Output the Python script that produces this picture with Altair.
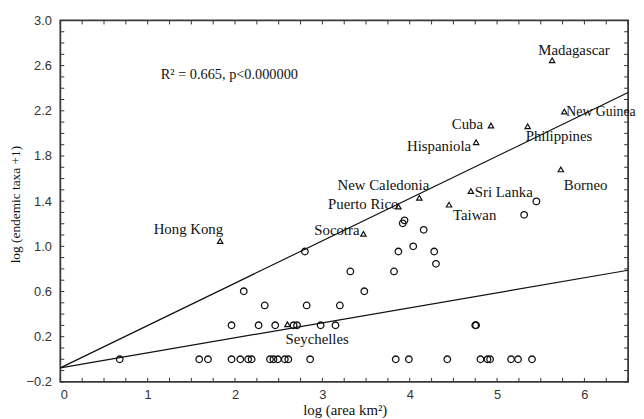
import altair as alt
import numpy as np
import pandas as pd

# ---------------- data ----------------
# unlabelled islands (circles)
circle_x = [0.68, 1.59, 1.69, 1.96, 2.06, 2.15, 2.19, 2.40, 2.44, 2.49, 2.57, 2.61, 2.86,
            3.84, 3.99, 4.43, 4.81, 4.89, 4.92, 5.16, 5.24, 5.40,
            1.96, 2.27, 2.46, 2.67, 2.71, 2.98, 3.15, 4.75, 4.76,
            2.34, 2.82, 3.20,
            2.10, 3.48,
            3.32, 3.82,
            4.30,
            2.80, 3.87, 4.28,
            4.04,
            4.16,
            3.92, 3.94,
            5.31,
            5.45]
circle_y = [0.0] * 22 + \
           [0.301] * 9 + \
           [0.477] * 3 + \
           [0.602] * 2 + \
           [0.778] * 2 + \
           [0.845] + \
           [0.954] * 3 + \
           [1.0] + \
           [1.146] + \
           [1.204, 1.230] + \
           [1.279] + \
           [1.398]

# labelled islands (triangles)
tri_names = ["Madagascar", "New Guinea", "Cuba", "Philippines", "Hispaniola", "Borneo",
             "Sri Lanka", "Taiwan", "New Caledonia", "Puerto Rico", "Socotra",
             "Hong Kong", "Seychelles"]
tri_x = [5.63, 5.77, 4.93, 5.35, 4.76, 5.73, 4.70, 4.45, 4.11, 3.87, 3.47, 1.83, 2.60]
tri_y = [2.647, 2.193, 2.070, 2.063, 1.922, 1.681, 1.489, 1.369, 1.430, 1.353, 1.111, 1.047, 0.310]

# regression lines
fit_names = ["upper", "lower"]
fit_intercept = [-0.076, -0.076]
fit_slope = [0.375, 0.133]

x_tick_labels = [0, 1, 2, 3, 4, 5, 6]
y_tick_labels = [-0.2, 0.2, 0.6, 1.0, 1.4, 1.8, 2.2, 2.6, 3.0]
x_minor_step = 0.25
y_minor_step = 0.1

stat_text = "R\u00b2 = 0.665, p<0.000000"
stat_x = [1.15]
stat_y = [2.48]

x_title = "log (area km\u00b2)"
y_title = "log (endemic taxa +1)"

# ---------------- layout / style ----------------
W, H = 575, 366
X_DOM = [0, 6.5]
Y_DOM = [-0.2, 3.0]
SERIF = "Liberation Serif"
SANS = "Liberation Sans"
INK = "#111111"

xs = alt.Scale(domain=X_DOM, nice=False, zero=False)
ys = alt.Scale(domain=Y_DOM, nice=False, zero=False)

circles_df = pd.DataFrame({"x": circle_x, "y": circle_y})
tri_df = pd.DataFrame({"name": tri_names, "x": tri_x, "y": tri_y})

line_rows = []
for n, b, m in zip(fit_names, fit_intercept, fit_slope):
    for xv in X_DOM:
        line_rows.append({"fit": n, "x": xv, "y": b + m * xv})
lines_df = pd.DataFrame(line_rows)

x_axis = alt.Axis(values=x_tick_labels, format="d", title=x_title, ticks=False, tickSize=0,
                  grid=False, domain=False, labelPadding=7, labelFont=SANS, labelFontSize=13,
                  labelColor="#333333", titleFont=SERIF, titleFontSize=15, titleFontWeight="normal",
                  titleColor=INK, titleX=288, titleY=33, titleBaseline="alphabetic",
                  titleAlign="center")
y_axis = alt.Axis(values=y_tick_labels, format=".1f", title=y_title, ticks=False, tickSize=0,
                  grid=False, domain=False, labelPadding=9, labelFont=SANS, labelFontSize=13,
                  labelColor="#333333", titleFont=SERIF, titleFontSize=13.5, titleFontWeight="normal",
                  titleColor=INK, titleX=-45, titleY=186, titleBaseline="middle",
                  titleAlign="center")

X = alt.X("x:Q", scale=xs, axis=x_axis)
Y = alt.Y("y:Q", scale=ys, axis=y_axis)

circles = alt.Chart(circles_df).mark_point(
    shape="circle", size=44, filled=False, color=INK, strokeWidth=1.3, opacity=1
).encode(x=X, y=Y)

tris = alt.Chart(tri_df).mark_point(
    shape="triangle-up", size=30, filled=False, color=INK, strokeWidth=1.2, opacity=1
).encode(x=X, y=Y)

lines = alt.Chart(lines_df).mark_line(color=INK, strokeWidth=1.2, clip=True).encode(
    x=X, y=Y, detail="fit:N")

# label placement (align, dx, dy, font size) per island
placement = {
    "Madagascar": ("left", -14, -5, 15),
    "New Guinea": ("left", 2, 4, 14),
    "Cuba": ("right", -8, 4, 15),
    "Philippines": ("left", -2, 15, 15),
    "Hispaniola": ("right", -5, 9, 15),
    "Borneo": ("left", 3, 21, 15),
    "Sri Lanka": ("left", 4, 6, 15),
    "Taiwan": ("left", 4, 16, 15),
    "New Caledonia": ("right", 10, -8, 15),
    "Puerto Rico": ("right", 0, 3, 15),
    "Socotra": ("right", -4, 1, 15),
    "Hong Kong": ("right", 3, -7, 15),
    "Seychelles": ("left", -2, 20, 15),
}
label_layers = []
for name, (al, dx, dy, fs) in placement.items():
    label_layers.append(
        alt.Chart(tri_df[tri_df["name"] == name]).mark_text(
            align=al, baseline="alphabetic", dx=dx, dy=dy, font=SERIF, fontSize=fs, color=INK
        ).encode(x=X, y=Y, text="name:N")
    )

stat = alt.Chart(pd.DataFrame({"x": stat_x, "y": stat_y, "t": [stat_text]})).mark_text(
    align="left", baseline="alphabetic", font=SERIF, fontSize=14.5, color=INK
).encode(x=X, y=Y, text="t:N")

# inward tick marks on all four sides
xt = pd.DataFrame({"x": np.round(np.arange(X_DOM[0], X_DOM[1] + 1e-9, x_minor_step), 4)})
yt = pd.DataFrame({"y": np.round(np.arange(Y_DOM[0], Y_DOM[1] + 1e-9, y_minor_step), 4)})
TL = 4
tick_style = dict(color="#333333", strokeWidth=1)
t_bottom = alt.Chart(xt).mark_rule(**tick_style).encode(
    x=X, y=alt.value(H), y2=alt.value(H - TL))
t_top = alt.Chart(xt).mark_rule(**tick_style).encode(
    x=X, y=alt.value(0), y2=alt.value(TL))
t_left = alt.Chart(yt).mark_rule(**tick_style).encode(
    y=Y, x=alt.value(0), x2=alt.value(TL))
t_right = alt.Chart(yt).mark_rule(**tick_style).encode(
    y=Y, x=alt.value(W), x2=alt.value(W - TL))

chart = alt.layer(
    circles, t_bottom, t_top, t_left, t_right, lines, tris, stat, *label_layers
).properties(
    width=W, height=H,
    padding={"left": 53, "top": 10, "right": 8, "bottom": 35},
    autosize=alt.AutoSizeParams(type="none"),
    background="white",
).configure_view(stroke="#3a3a3a", strokeWidth=1.8)

chart.save("out.html", embed_options={"renderer": "svg", "actions": False})
